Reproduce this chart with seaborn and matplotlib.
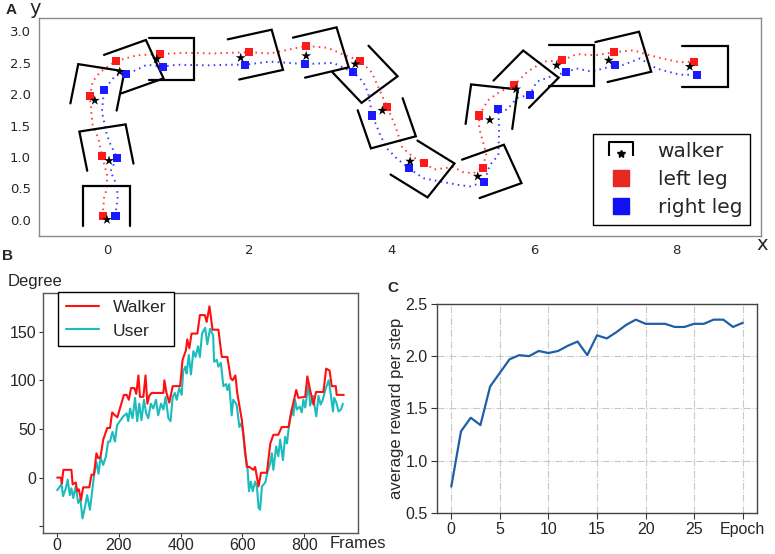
import numpy as np
import matplotlib
matplotlib.use("Agg")
import matplotlib.pyplot as plt
from matplotlib.lines import Line2D
from matplotlib.path import Path
from matplotlib.markers import MarkerStyle
from matplotlib.transforms import Affine2D
from matplotlib.legend_handler import HandlerTuple
import seaborn as sns
import pandas as pd

# ---------------- Panel A data ----------------
walker_x = [0.00, 0.03, -0.17, 0.18, 0.70, 1.88, 2.80, 3.49, 3.87, 4.26, 5.21, 5.38, 5.75, 6.32, 7.05, 8.19]
walker_y = [0.00, 0.94, 1.90, 2.36, 2.56, 2.58, 2.61, 2.48, 1.74, 0.93, 0.69, 1.59, 2.08, 2.46, 2.54, 2.44]
walker_heading = [90, 100, 80, 22, 0, 14, 15, -50, -73, -35, 22, 83, 49, 0, 15, 0]
left_x = [-0.06, -0.07, -0.24, 0.13, 0.74, 1.99, 2.80, 3.56, 3.94, 4.45, 5.28, 5.23, 5.72, 6.40, 7.13, 8.25]
left_y = [0.06, 1.02, 1.97, 2.53, 2.64, 2.67, 2.77, 2.53, 1.79, 0.91, 0.83, 1.66, 2.14, 2.54, 2.67, 2.52]
right_x = [0.12, 0.14, -0.04, 0.27, 0.79, 1.94, 2.78, 3.46, 3.73, 4.24, 5.30, 5.50, 5.94, 6.45, 7.14, 8.29]
right_y = [0.06, 0.99, 2.07, 2.32, 2.44, 2.47, 2.48, 2.35, 1.66, 0.82, 0.60, 1.76, 1.99, 2.35, 2.46, 2.31]

left_trail_x = [-0.06, -0.04, 0.0, 0.0, -0.07, -0.12, -0.2, -0.24, -0.2, -0.1, 0.13, 0.42, 0.74, 1.1, 1.5,
                1.99, 2.3, 2.8, 3.1, 3.35, 3.56, 3.72, 3.94, 4.05, 4.15, 4.3, 4.45, 4.6, 4.87, 5.0, 5.15,
                5.28, 5.33, 5.23, 5.23, 5.35, 5.52, 5.72, 5.9, 6.13, 6.4, 6.6, 6.85, 7.13, 7.4, 7.6, 7.8,
                8.05, 8.25]
left_trail_y = [0.06, 0.35, 0.5, 0.72, 1.02, 1.3, 1.5, 1.97, 2.2, 2.35, 2.53, 2.62, 2.64, 2.66, 2.65,
                2.67, 2.65, 2.77, 2.74, 2.62, 2.53, 2.35, 1.79, 1.5, 1.15, 1.0, 0.91, 0.8, 0.84, 0.76, 0.74,
                0.83, 1.05, 1.46, 1.66, 1.9, 2.04, 2.14, 2.35, 2.52, 2.54, 2.64, 2.62, 2.67, 2.7, 2.63, 2.57,
                2.51, 2.52]
right_trail_x = [0.12, 0.15, 0.14, 0.05, 0.14, 0.05, 0.0, -0.07, -0.04, 0.12, 0.27, 0.42, 0.56, 0.79, 0.98,
                 1.4, 1.73, 1.94, 2.29, 2.78, 3.18, 3.46, 3.6, 3.67, 3.73, 3.84, 3.93, 4.07, 4.24, 4.45,
                 4.68, 4.96, 5.1, 5.3, 5.38, 5.5, 5.51, 5.5, 5.62, 5.76, 5.94, 6.04, 6.23, 6.45, 6.6, 6.81,
                 7.14, 7.26, 7.49, 7.72, 8.05, 8.29]
right_trail_y = [0.06, 0.35, 0.55, 0.77, 0.99, 1.2, 1.35, 1.72, 2.07, 2.3, 2.32, 2.39, 2.47, 2.44, 2.47,
                 2.46, 2.47, 2.47, 2.52, 2.48, 2.5, 2.35, 2.2, 2.02, 1.66, 1.35, 1.14, 0.98, 0.82, 0.66,
                 0.61, 0.55, 0.53, 0.6, 0.87, 1.03, 1.43, 1.76, 1.75, 1.94, 1.99, 2.2, 2.28, 2.35, 2.41, 2.36,
                 2.46, 2.47, 2.57, 2.41, 2.31, 2.31]

a_xticks = [0, 2, 4, 6, 8]
a_yticks = [0.0, 0.5, 1.0, 1.5, 2.0, 2.5, 3.0]

# ---------------- Panel B data ----------------
walker_frames = [0, 12, 15, 20, 46, 50, 60, 65, 70, 77, 84, 104, 111, 119, 127, 133, 140, 149, 162, 171,
                 178, 187, 195, 203, 216, 225, 232, 239, 250, 256, 263, 268, 279, 286, 292, 298, 306, 344,
                 347, 354, 363, 374, 398, 406, 417, 421, 428, 435, 454, 462, 478, 484, 493, 503, 522, 533,
                 551, 562, 568, 577, 583, 598, 614, 622, 635, 641, 652, 660, 679, 690, 700, 716, 727, 749,
                 757, 774, 781, 803, 810, 819, 830, 838, 862, 871, 882, 889, 902, 905, 928]
walker_deg = [0, 0, -6, 8, 8, -7, -5, -14, -12, -23, -10, -10, 3, 3, 25, 20, 21, 39, 51, 51,
              67, 64, 62, 71, 85, 85, 80, 92, 92, 86, 105, 83, 83, 105, 76, 84, 87, 87,
              100, 87, 77, 94, 94, 121, 131, 142, 133, 148, 148, 167, 167, 160, 176, 152, 152, 124,
              124, 102, 100, 105, 87, 59, 11, 11, 8, 11, -9, 5, 5, 35, 44, 44, 52, 52,
              66, 90, 82, 83, 104, 90, 75, 88, 88, 112, 110, 94, 94, 85, 85]
user_frames = [0, 9, 14, 19, 28, 34, 41, 46, 52, 60, 68, 75, 82, 90, 97, 106, 115, 120, 127, 134, 140, 149,
               158, 165, 171, 179, 187, 194, 203, 214, 225, 230, 236, 244, 252, 259, 266, 273, 281, 288,
               295, 303, 311, 320, 327, 336, 344, 351, 360, 367, 374, 381, 387, 395, 403, 408, 415, 419,
               426, 433, 441, 448, 456, 462, 469, 479, 486, 495, 505, 508, 517, 522, 530, 538, 547, 551,
               557, 565, 570, 581, 590, 597, 603, 608, 616, 621, 627, 633, 641, 647, 652, 657, 663, 674,
               681, 690, 695, 700, 709, 716, 722, 731, 738, 744, 749, 760, 765, 770, 776, 785, 792, 797,
               803, 814, 819, 828, 839, 846, 853, 860, 868, 879, 884, 893, 897, 904, 911, 919, 925]
user_deg = [-13, -9, -7, -19, -11, -2, -18, -11, -21, -9, -26, -22, -42, -30, -18, -33, -9, 4, 16, 4, 21, 13,
            22, 37, 37, 47, 37, 54, 58, 63, 66, 58, 71, 61, 82, 58, 76, 59, 80, 66,
            61, 76, 71, 80, 64, 76, 70, 83, 61, 58, 83, 87, 80, 92, 85, 109, 114, 107,
            126, 106, 130, 124, 135, 124, 148, 154, 137, 153, 146, 119, 121, 114, 118, 94, 96, 90,
            96, 64, 80, 75, 52, 56, 44, 25, 11, -14, -4, -14, -4, -10, -31, -33, -9, -5,
            6, 15, 25, 8, 32, 22, 39, 18, 42, 35, 49, 71, 64, 80, 70, 73, 67, 80,
            72, 97, 74, 84, 63, 84, 75, 80, 90, 100, 90, 68, 82, 77, 68, 70, 76]
b_xticks = [0, 200, 400, 600, 800]
b_yticks = [-50, 0, 50, 100, 150]
b_yticklabels = ["", "0", "50", "100", "150"]

# ---------------- Panel C data ----------------
epochs = list(range(31))
reward = [0.75, 1.28, 1.41, 1.34, 1.71, 1.84, 1.97, 2.01, 2.00, 2.05, 2.03, 2.05, 2.10, 2.14, 2.01, 2.20,
          2.17, 2.23, 2.30, 2.35, 2.31, 2.31, 2.31, 2.28, 2.28, 2.31, 2.31, 2.35, 2.35, 2.28, 2.32]
c_xticks = [0, 5, 10, 15, 20, 25, 30]
c_xticklabels = ["0", "5", "10", "15", "20", "25", "Epoch"]
c_yticks = [0.5, 1.0, 1.5, 2.0, 2.5]

# ---------------- Figure ----------------
sns.set_style("white")
plt.rcParams['font.family'] = ['Liberation Sans', 'DejaVu Sans']
fig = plt.figure(figsize=(7.75, 5.54), dpi=100)
W_PX, H_PX = 775.0, 554.0

def rect(l, t, r, b):
    return [l / W_PX, 1 - b / H_PX, (r - l) / W_PX, (b - t) / H_PX]

RED = '#ff1a1a'
BLUE = '#1a1aff'

# ----- Panel A -----
axA = fig.add_axes(rect(39.3, 18.3, 761, 236))
axA.plot(left_trail_x, left_trail_y, color=RED, lw=1.4, ls=(0, (0.8, 2.2)), alpha=0.85, zorder=1)
axA.plot(right_trail_x, right_trail_y, color=BLUE, lw=1.4, ls=(0, (0.8, 2.2)), alpha=0.85, zorder=1)

HW, BK, FR = 0.33, -0.105, 0.53
for x, y, th in zip(walker_x, walker_y, walker_heading):
    t = np.deg2rad(th)
    h = np.array([np.cos(t), np.sin(t)])
    l = np.array([-np.sin(t), np.cos(t)])
    p = np.array([x, y])
    pts = np.array([p + BK * h + HW * l, p + FR * h + HW * l, p + FR * h - HW * l, p + BK * h - HW * l])
    axA.plot(pts[:, 0], pts[:, 1], color='black', lw=1.6, solid_joinstyle='miter', zorder=2)

sns.scatterplot(x=left_x, y=left_y, ax=axA, color=RED, marker='s', s=34, edgecolor='none', zorder=3)
sns.scatterplot(x=right_x, y=right_y, ax=axA, color=BLUE, marker='s', s=34, edgecolor='none', zorder=3)
sns.scatterplot(x=walker_x, y=walker_y, ax=axA, color='black', marker='*', s=55, edgecolor='none', zorder=4)

axA.set_xlim(-0.95, 9.19)
axA.set_ylim(-0.26, 3.21)
axA.set_xticks(a_xticks)
axA.set_yticks(a_yticks)
axA.set_xticklabels([str(v) for v in a_xticks], family='DejaVu Sans', fontsize=9.5)
axA.set_yticklabels([f"{v:.1f}" for v in a_yticks], family='DejaVu Sans', fontsize=9.5)
axA.tick_params(length=3, width=0.8, color='#777777', pad=3)
for s in axA.spines.values():
    s.set_color('#8a8a8a')
    s.set_linewidth(1.0)

u_path = Path([(-1, -0.55), (-1, 0.65), (1, 0.65), (1, -0.55)],
              [Path.MOVETO, Path.LINETO, Path.LINETO, Path.LINETO])
h_box = Line2D([], [], linestyle='none', marker=u_path, markersize=17, markerfacecolor='none',
               markeredgecolor='black', markeredgewidth=1.5)
h_star = Line2D([], [], linestyle='none',
                marker=MarkerStyle('*', transform=Affine2D().translate(0, -0.45)),
                markersize=6, color='black')
h_red = Line2D([], [], linestyle='none', marker='s', markersize=12, color='#e8281e')
h_blue = Line2D([], [], linestyle='none', marker='s', markersize=12, color='#1010f5')
legA = axA.legend([(h_box, h_star), h_red, h_blue], ['walker', 'left leg', 'right leg'],
                  handler_map={tuple: HandlerTuple(ndivide=1)},
                  loc='lower right', bbox_to_anchor=(0.985, 0.049), borderaxespad=0,
                  prop={'family': 'DejaVu Sans', 'size': 14.5}, frameon=True, fancybox=False,
                  edgecolor='black', framealpha=1, labelspacing=0.45, handletextpad=0.8, borderpad=0.4)
legA.get_frame().set_linewidth(1.0)

fig.text(11 / W_PX, 1 - 10 / H_PX, 'A', fontsize=11, fontweight='bold', ha='center', va='center')
fig.text(35 / W_PX, 1 - 8 / H_PX, 'y', fontsize=14, family='DejaVu Sans', ha='center', va='center')
fig.text(762 / W_PX, 1 - 244 / H_PX, 'x', fontsize=14, family='DejaVu Sans', ha='center', va='center')

# ----- Panel B -----
axB = fig.add_axes(rect(43.3, 292.7, 358.3, 532.7))
dfw = pd.DataFrame({'frame': walker_frames, 'deg': walker_deg})
dfu = pd.DataFrame({'frame': user_frames, 'deg': user_deg})
sns.lineplot(data=dfw, x='frame', y='deg', ax=axB, color='#ff1010', lw=1.5, estimator=None,
             label='Walker', zorder=3)
sns.lineplot(data=dfu, x='frame', y='deg', ax=axB, color='#1cbcbc', lw=1.5, estimator=None,
             label='User', zorder=2)
axB.set_xlim(-45, 975)
axB.set_ylim(-56.6, 190)
axB.set_xticks(b_xticks)
axB.set_yticks(b_yticks)
axB.set_yticklabels(b_yticklabels)
axB.set_xlabel('')
axB.set_ylabel('')
axB.tick_params(labelsize=11.5, length=3, width=0.8, color='#333333', pad=2, bottom=True, left=True)
axB.tick_params(axis='x', pad=1)
for s in axB.spines.values():
    s.set_color('#555555')
    s.set_linewidth(1.0)
legB = axB.legend(loc='upper left', bbox_to_anchor=(0.047, 1.004), borderaxespad=0, fontsize=12.5,
                  frameon=True, fancybox=False, edgecolor='black', framealpha=1, handlelength=1.9,
                  handletextpad=0.8, labelspacing=0.5, borderpad=0.45)
legB.get_frame().set_linewidth(1.0)
fig.text(7 / W_PX, 1 - 256 / H_PX, 'B', fontsize=11, fontweight='bold', ha='center', va='center')
fig.text(8 / W_PX, 1 - 281.7 / H_PX, 'Degree', fontsize=12, ha='left', va='center')
fig.text(330 / W_PX, 1 - 544 / H_PX, 'Frames', fontsize=12, ha='left', va='center')

# ----- Panel C -----
axC = fig.add_axes(rect(437.3, 304, 757.3, 512.7))
dfc = pd.DataFrame({'epoch': epochs, 'reward': reward})
sns.lineplot(data=dfc, x='epoch', y='reward', ax=axC, color='#1f5fa8', lw=1.6, estimator=None, zorder=3)
axC.set_xlim(-1.44, 31.5)
axC.set_ylim(0.5, 2.5)
axC.set_xticks(c_xticks)
axC.set_xticklabels(c_xticklabels)
axC.set_yticks(c_yticks)
axC.set_yticklabels([f"{v:.1f}" for v in c_yticks])
axC.set_xlabel('')
axC.set_ylabel('')
axC.grid(True, color='#c8c8c8', linestyle='-.', linewidth=0.8)
axC.set_axisbelow(True)
axC.tick_params(labelsize=11.5, length=4, width=0.8, color='#333333', pad=3, bottom=True, left=True)
for s in axC.spines.values():
    s.set_color('#444444')
    s.set_linewidth(1.0)
fig.text(393 / W_PX, 1 - 288 / H_PX, 'C', fontsize=11, fontweight='bold', ha='center', va='center')
fig.text(397 / W_PX, 1 - 408 / H_PX, 'average reward per step', fontsize=12, rotation=90,
         ha='center', va='center')

fig.savefig('out.png', dpi=100)
